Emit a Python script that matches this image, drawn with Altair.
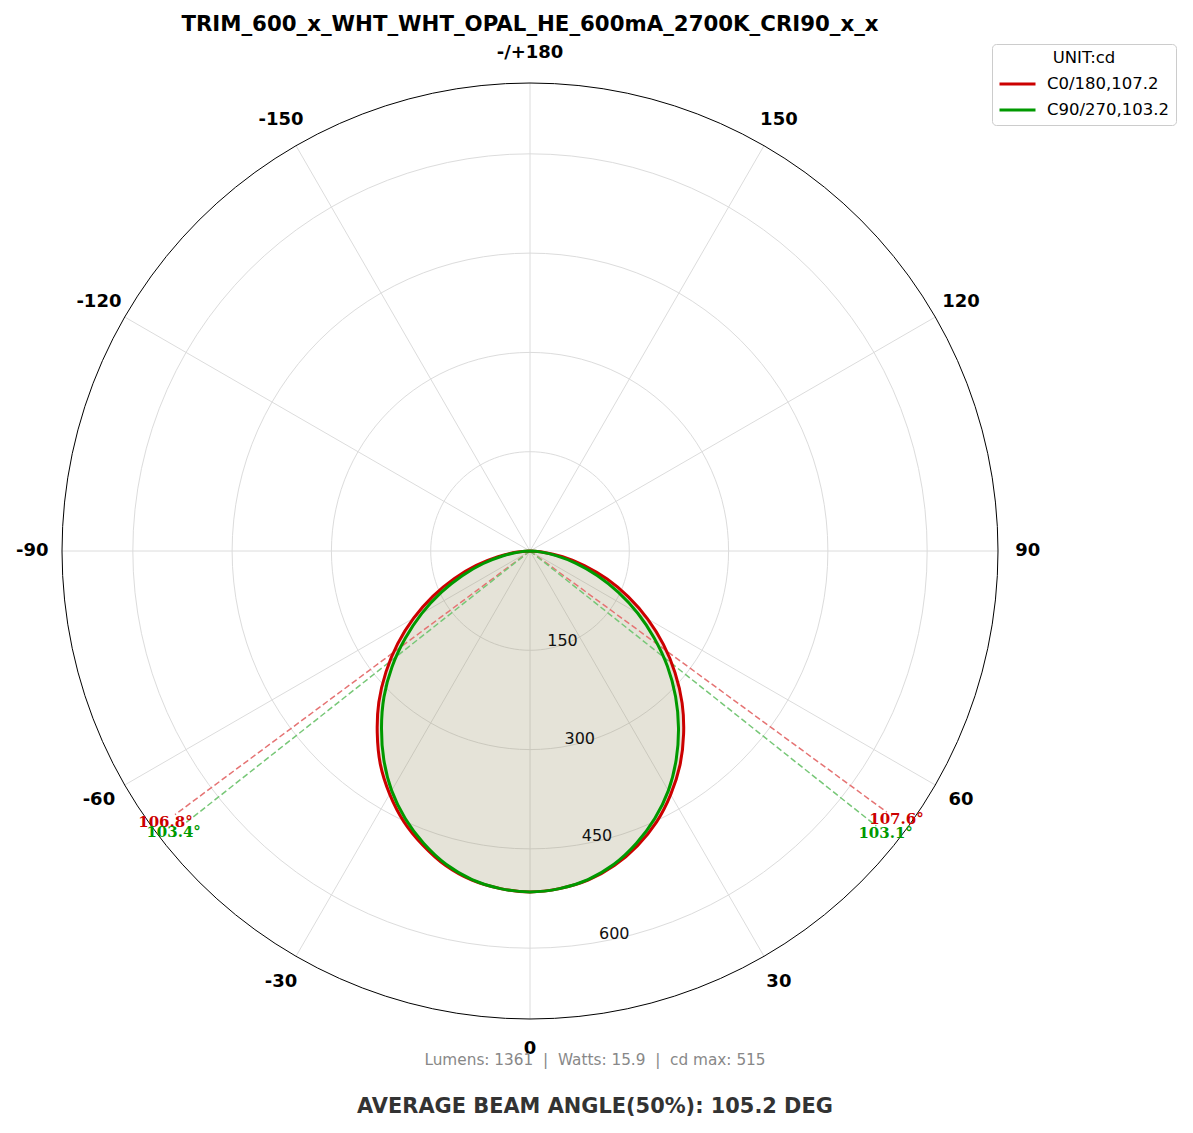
import altair as alt
import pandas as pd

# ---------------- data ----------------
TITLE = "TRIM_600_x_WHT_WHT_OPAL_HE_600mA_2700K_CRI90_x_x"
SERIES = ["C0/180,107.2", "C90/270,103.2"]
COLORS = ["#cc0000", "#009900"]
DASH_COLORS = ["#e57373", "#77c777"]

# gamma angles (deg) from nadir
gamma = [0, 5, 10, 15, 20, 25, 30, 35, 40, 45, 50, 55, 60, 65, 70, 75, 80, 85, 90]
# candela values, C0 side (positive angles) and C180 side (negative angles)
c0_pos = [515, 512, 505, 492, 474, 452, 425, 395, 361, 325, 286, 246, 205, 164, 124, 85, 50, 20, 0]
c0_neg = [515, 512, 505, 492, 473, 451, 424, 394, 359, 323, 284, 244, 203, 162, 122, 84, 49, 19, 0]
# C90 / C270
c90_pos = [515, 512, 504, 490, 470, 446, 418, 385, 349, 311, 271, 229, 188, 147, 108, 72, 40, 15, 0]
c90_neg = [515, 512, 504, 490, 470, 446, 418, 385, 349, 312, 272, 230, 189, 148, 109, 73, 41, 15, 0]

beam_pos = [107.6, 103.1]   # beam angle read on the positive side
beam_neg = [106.8, 103.4]   # beam angle read on the negative side

ring_values = [150, 300, 450, 600]
R_MAX = 707
spoke_angles = [0, 30, 60, 90, 120, 150, 180, 210, 240, 270, 300, 330]
spoke_labels = ["0", "30", "60", "90", "120", "150", "-/+180", "-150", "-120", "-90", "-60", "-30"]
circle_steps = list(range(0, 361, 3))

NB = "\u00a0"
LUMENS_TEXT = f"Lumens: 1361{NB}{NB}|{NB}{NB}Watts: 15.9{NB}{NB}|{NB}{NB}cd max: 515"
AVG_TEXT = "AVERAGE BEAM ANGLE(50%): 105.2 DEG"

# layout constants
LABEL_R = 752
BEAM_LINE_R = 668
BEAM_TEXT_R = 686
RING_LABEL_ANGLE = 10
SIZE = 936
FONT = "DejaVu Sans"

# ---------------- tables ----------------
rows = []
for name, pos, neg in [(SERIES[0], c0_pos, c0_neg), (SERIES[1], c90_pos, c90_neg)]:
    k = 0
    for g, v in zip(reversed(gamma[1:]), reversed(neg[1:])):
        rows.append({"series": name, "a": -g, "r": v, "o": k}); k += 1
    for g, v in zip(gamma, pos):
        rows.append({"series": name, "a": g, "r": v, "o": k}); k += 1
curve_df = pd.DataFrame(rows)

ring_rows = []
for rv in ring_values + [R_MAX]:
    for s in circle_steps:
        ring_rows.append({"ring": rv, "a": s, "r": rv, "outer": rv == R_MAX})
ring_df = pd.DataFrame(ring_rows)

spoke_df = pd.DataFrame({"a": spoke_angles, "r": [R_MAX] * len(spoke_angles)})
angle_lab_df = pd.DataFrame({"a": spoke_angles, "r": [LABEL_R] * len(spoke_angles), "t": spoke_labels})
ring_lab_df = pd.DataFrame({"a": [RING_LABEL_ANGLE] * len(ring_values), "r": ring_values,
                            "t": [str(v) for v in ring_values]})

beam_rows = []
for i in range(2):
    for b, sgn in [(beam_pos[i], 1), (beam_neg[i], -1)]:
        beam_rows.append({"a": sgn * b / 2, "r": BEAM_LINE_R, "rt": BEAM_TEXT_R,
                          "t": f"{b}°", "c": COLORS[i], "dc": DASH_COLORS[i], "s": SERIES[i]})
beam_df = pd.DataFrame(beam_rows)

XE = "datum.r * sin(datum.a * PI / 180)"
YE = "-datum.r * cos(datum.a * PI / 180)"
sc = alt.Scale(domain=[-R_MAX, R_MAX], nice=False, zero=False)
X = alt.X("x:Q", scale=sc, axis=None)
Y = alt.Y("y:Q", scale=sc, axis=None)

rings = alt.Chart(ring_df).transform_calculate(x=XE, y=YE).mark_line(
    strokeWidth=1, clip=False
).encode(
    x=X, y=Y, detail="ring:N", order="a:Q",
    color=alt.condition("datum.outer", alt.value("#000000"), alt.value("#dcdcdc")),
)

spokes = alt.Chart(spoke_df).transform_calculate(
    x="0", y="0", x2=XE, y2=YE
).mark_rule(color="#dcdcdc", strokeWidth=1).encode(x=X, y=Y, x2="x2:Q", y2="y2:Q")

fill = alt.Chart(curve_df).transform_filter(
    alt.datum.series == SERIES[0]
).transform_calculate(x=XE, y=YE).mark_line(
    filled=True, color="#978f63", opacity=0.25, strokeWidth=0, interpolate="catmull-rom"
).encode(x=X, y=Y, order="o:Q")

curves = alt.Chart(curve_df).transform_calculate(x=XE, y=YE).mark_line(
    strokeWidth=3, interpolate="catmull-rom"
).encode(
    x=X, y=Y, order="o:Q",
    color=alt.Color("series:N", scale=alt.Scale(domain=SERIES, range=COLORS),
                    sort=SERIES,
                    legend=alt.Legend(
                        title="UNIT:cd", orient="none", legendX=930, legendY=-39,
                        titleFontSize=16.5, titleFontWeight="normal", titleFont=FONT,
                        titleAnchor="middle", titleColor="#000", titlePadding=6,
                        labelFont=FONT, labelFontSize=16.5, labelColor="#000", labelOffset=26,
                        symbolType="M-1,0H2.6", symbolStrokeWidth=3, symbolSize=400,
                        symbolFillColor="transparent",
                        rowPadding=6, padding=6, strokeColor="#cccccc", fillColor="white",
                        cornerRadius=4)),
)

beam_lines = alt.Chart(beam_df).transform_calculate(
    x="0", y="0", x2=XE, y2=YE
).mark_rule(strokeWidth=1.5, strokeDash=[6, 3]).encode(
    x=X, y=Y, x2="x2:Q", y2="y2:Q", color=alt.Color("dc:N", scale=None)
)

beam_text = alt.Chart(beam_df).transform_calculate(
    x="datum.rt * sin(datum.a * PI / 180)", y="-datum.rt * cos(datum.a * PI / 180)"
).mark_text(font="DejaVu Serif", fontWeight="bold", fontSize=15, align="center",
            baseline="middle").encode(
    x=X, y=Y, text="t:N", color=alt.Color("c:N", scale=None)
)

angle_text = alt.Chart(angle_lab_df).transform_calculate(x=XE, y=YE).mark_text(
    font=FONT, fontWeight="bold", fontSize=18, align="center", baseline="middle", color="#000"
).encode(x=X, y=Y, text="t:N")

ring_text = alt.Chart(ring_lab_df).transform_calculate(x=XE, y=YE).mark_text(
    font=FONT, fontSize=16, align="left", baseline="bottom", color="#111"
).encode(x=X, y=Y, text="t:N")

title_text = alt.Chart(pd.DataFrame({"t": [TITLE]})).mark_text(
    font=FONT, fontWeight="bold", fontSize=21.3, align="center", baseline="middle", color="#000"
).encode(text="t:N", x=alt.value(468), y=alt.value(-58))

lumens_text = alt.Chart(pd.DataFrame({"t": [LUMENS_TEXT]})).mark_text(
    font=FONT, fontSize=15.3, align="center", baseline="middle", color="#888888"
).encode(text="t:N", x=alt.value(533), y=alt.value(977))

avg_text = alt.Chart(pd.DataFrame({"t": [AVG_TEXT]})).mark_text(
    font=FONT, fontWeight="bold", fontSize=20.9, align="center", baseline="middle", color="#333333"
).encode(text="t:N", x=alt.value(533), y=alt.value(1024))

chart = alt.layer(
    spokes, rings, fill, beam_lines, curves, beam_text, angle_text, ring_text,
    title_text, lumens_text, avg_text
).resolve_scale(color="independent").properties(
    width=SIZE, height=SIZE,
    autosize=alt.AutoSizeParams(type="none"),
    padding={"left": 54, "top": 75, "right": 187, "bottom": 100},
).configure_view(stroke=None)

chart.save("out.html", embed_options={"renderer": "svg", "actions": False})
